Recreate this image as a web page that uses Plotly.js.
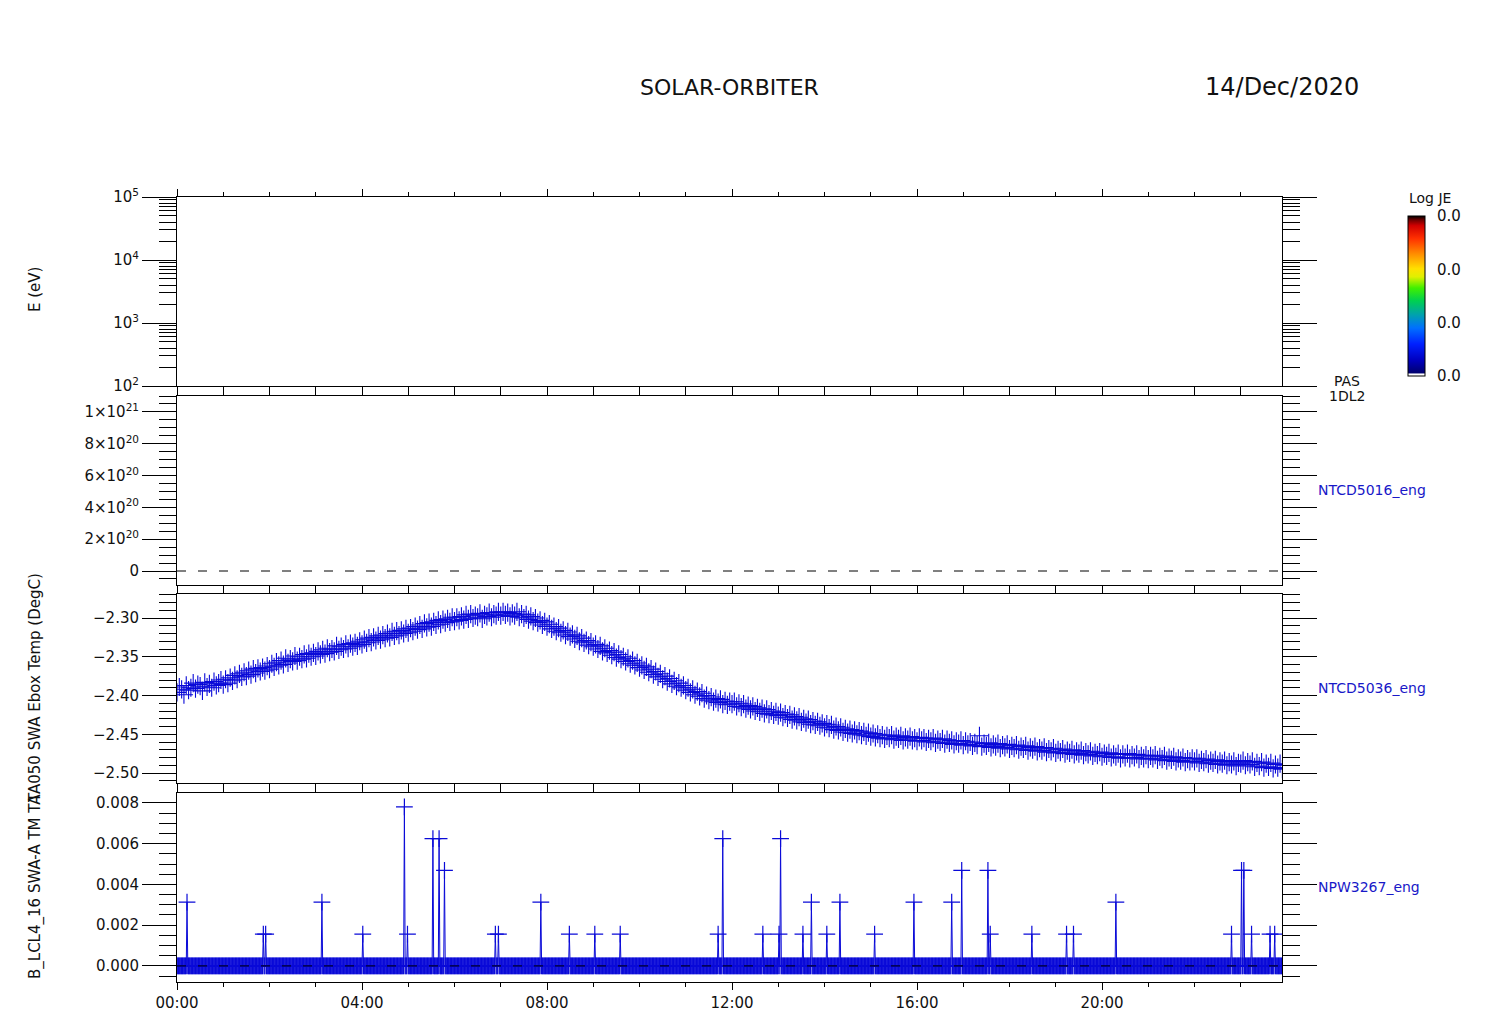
<!DOCTYPE html>
<html>
<head>
<meta charset="utf-8">
<script src="https://cdn.plot.ly/plotly-3.0.1.min.js"></script>
<style>html,body{margin:0;padding:0;background:#fff;}#chart{width:1512px;height:1020px;}</style>
</head>
<body>
<div id="chart"></div>
<script>
// ---------- DATA ----------
const dayDate = '2020-12-14';
const mainTitle = 'SOLAR-ORBITER';
const dateLabel = '14/Dec/2020';

// Panel 1 (energy axis, no data)
const eTickVals = [100, 1000, 10000, 100000];
const eTickText = ['10<sup>2</sup>','10<sup>3</sup>','10<sup>4</sup>','10<sup>5</sup>'];

// Panel 2 (NTCD5016_eng, only zero line)
const p2TickVals = [0, 2e20, 4e20, 6e20, 8e20, 1e21];
const p2TickText = ['0','2×10<sup>20</sup>','4×10<sup>20</sup>','6×10<sup>20</sup>','8×10<sup>20</sup>','1×10<sup>21</sup>'];

// Panel 3 (NTCD5036_eng) temperature, one sample every 3 minutes from 00:00 (20 per hour)
const tempStepMin = 3;
const tempValues = [
-2.396,-2.389,-2.392,-2.399,-2.387,-2.393,-2.390,-2.384,-2.391,-2.386,-2.388,-2.394,-2.383,-2.389,-2.385,-2.390,-2.382,-2.387,-2.384,-2.380,
-2.386,-2.379,-2.384,-2.377,-2.381,-2.374,-2.379,-2.372,-2.376,-2.370,-2.375,-2.368,-2.373,-2.366,-2.371,-2.365,-2.369,-2.364,-2.368,-2.362,
-2.366,-2.359,-2.363,-2.357,-2.361,-2.355,-2.360,-2.352,-2.358,-2.353,-2.356,-2.349,-2.355,-2.350,-2.353,-2.347,-2.352,-2.346,-2.350,-2.345,
-2.349,-2.343,-2.347,-2.341,-2.346,-2.339,-2.344,-2.340,-2.343,-2.336,-2.341,-2.337,-2.340,-2.334,-2.339,-2.333,-2.337,-2.332,-2.336,-2.330,
-2.334,-2.328,-2.332,-2.326,-2.331,-2.325,-2.329,-2.323,-2.328,-2.322,-2.326,-2.320,-2.325,-2.318,-2.323,-2.317,-2.322,-2.316,-2.320,-2.314,
-2.319,-2.313,-2.317,-2.311,-2.315,-2.309,-2.314,-2.307,-2.312,-2.306,-2.311,-2.305,-2.309,-2.303,-2.308,-2.302,-2.306,-2.301,-2.305,-2.299,
-2.304,-2.299,-2.303,-2.298,-2.302,-2.296,-2.301,-2.295,-2.300,-2.297,-2.299,-2.294,-2.301,-2.296,-2.298,-2.293,-2.299,-2.295,-2.297,-2.292,
-2.297,-2.292,-2.296,-2.293,-2.298,-2.294,-2.297,-2.292,-2.299,-2.295,-2.300,-2.296,-2.302,-2.298,-2.304,-2.300,-2.306,-2.303,-2.309,-2.305,
-2.311,-2.308,-2.314,-2.311,-2.317,-2.313,-2.319,-2.316,-2.322,-2.318,-2.324,-2.321,-2.327,-2.323,-2.330,-2.326,-2.332,-2.329,-2.335,-2.331,
-2.337,-2.334,-2.340,-2.336,-2.343,-2.339,-2.345,-2.342,-2.348,-2.344,-2.351,-2.347,-2.353,-2.350,-2.356,-2.352,-2.359,-2.355,-2.361,-2.358,
-2.364,-2.361,-2.367,-2.363,-2.370,-2.366,-2.373,-2.369,-2.376,-2.372,-2.379,-2.375,-2.382,-2.378,-2.385,-2.381,-2.388,-2.384,-2.390,-2.387,
-2.393,-2.390,-2.396,-2.392,-2.399,-2.395,-2.401,-2.397,-2.404,-2.400,-2.406,-2.402,-2.408,-2.404,-2.409,-2.405,-2.411,-2.407,-2.412,-2.408,
-2.411,-2.408,-2.414,-2.410,-2.415,-2.411,-2.417,-2.413,-2.418,-2.414,-2.420,-2.416,-2.421,-2.417,-2.423,-2.418,-2.424,-2.420,-2.425,-2.421,
-2.426,-2.422,-2.428,-2.424,-2.429,-2.425,-2.431,-2.427,-2.432,-2.428,-2.434,-2.430,-2.435,-2.431,-2.437,-2.433,-2.438,-2.434,-2.439,-2.436,
-2.441,-2.437,-2.442,-2.438,-2.444,-2.440,-2.445,-2.441,-2.447,-2.443,-2.448,-2.444,-2.449,-2.445,-2.450,-2.446,-2.451,-2.447,-2.452,-2.448,
-2.453,-2.449,-2.454,-2.450,-2.455,-2.451,-2.456,-2.452,-2.455,-2.451,-2.457,-2.453,-2.456,-2.452,-2.458,-2.454,-2.457,-2.453,-2.458,-2.455,
-2.459,-2.454,-2.458,-2.455,-2.460,-2.456,-2.459,-2.455,-2.461,-2.457,-2.460,-2.456,-2.462,-2.457,-2.461,-2.458,-2.463,-2.459,-2.462,-2.458,
-2.464,-2.459,-2.463,-2.460,-2.465,-2.461,-2.464,-2.452,-2.466,-2.462,-2.465,-2.461,-2.467,-2.463,-2.466,-2.462,-2.468,-2.464,-2.467,-2.463,
-2.469,-2.465,-2.468,-2.464,-2.470,-2.466,-2.469,-2.465,-2.471,-2.467,-2.470,-2.466,-2.472,-2.468,-2.471,-2.467,-2.473,-2.469,-2.472,-2.468,
-2.474,-2.470,-2.473,-2.469,-2.475,-2.471,-2.474,-2.470,-2.476,-2.472,-2.475,-2.471,-2.477,-2.473,-2.476,-2.472,-2.478,-2.474,-2.477,-2.473,
-2.479,-2.475,-2.478,-2.474,-2.480,-2.476,-2.479,-2.475,-2.481,-2.476,-2.480,-2.475,-2.481,-2.477,-2.480,-2.476,-2.482,-2.478,-2.481,-2.477,
-2.482,-2.478,-2.481,-2.477,-2.483,-2.479,-2.482,-2.478,-2.484,-2.480,-2.483,-2.479,-2.485,-2.481,-2.484,-2.480,-2.486,-2.482,-2.485,-2.481,
-2.485,-2.481,-2.487,-2.483,-2.486,-2.482,-2.488,-2.484,-2.487,-2.483,-2.489,-2.485,-2.488,-2.484,-2.490,-2.486,-2.489,-2.485,-2.491,-2.487,
-2.488,-2.484,-2.490,-2.486,-2.489,-2.485,-2.492,-2.487,-2.491,-2.486,-2.493,-2.488,-2.492,-2.487,-2.494,-2.489,-2.493,-2.488,-2.495,-2.490
];
const p3TickVals = [-2.50,-2.45,-2.40,-2.35,-2.30];

// Panel 4 (NPW3267_eng): one sample per minute, zero except these spikes
const npwStepMin = 1;
const npwLastMin = 1433;
const spikeTimes = ['00:13','01:52','01:55','03:08','04:01','04:55','04:59','05:32','05:40','05:47',
  '06:53','06:57','07:52','08:29','09:02','09:35','11:42','11:48','12:40','13:01','13:03','13:32',
  '13:43','14:03','14:20','15:05','15:56','16:45','16:58','17:32','17:35','18:29','19:14','19:23',
  '20:18','22:48','23:01','23:04','23:14','23:38','23:44'];
const spikeValues = [0.00313,0.00156,0.00156,0.00313,0.00156,0.00781,0.00156,0.00625,0.00625,0.00469,
  0.00156,0.00156,0.00313,0.00156,0.00156,0.00156,0.00156,0.00625,0.00156,0.00156,0.00625,0.00156,
  0.00313,0.00156,0.00313,0.00156,0.00313,0.00313,0.00469,0.00469,0.00156,0.00156,0.00156,0.00156,
  0.00313,0.00156,0.00469,0.00469,0.00156,0.00156,0.00156];
const p4TickVals = [0, 0.002, 0.004, 0.006, 0.008];

// Colorbar
const cbTickVals = [0, 1/3, 2/3, 1];
const cbTickText = ['0.0','0.0','0.0','0.0'];

// ---------- helpers ----------
function pad(n){ return (n<10?'0':'') + n; }
function tstr(min){
  const h = Math.floor(min/60), m = Math.floor(min%60), s = Math.round((min*60)%60);
  return dayDate + ' ' + pad(h) + ':' + pad(m) + ':' + pad(s);
}
const xStart = dayDate + ' 00:00:00';
const xEnd = dayDate + ' 23:53:30';

const BLUE = '#0a0ad8';
const LBLUE = '#1818c8';
const FONT = 'DejaVu Sans';
const TXT = '#111111';

const tempX = tempValues.map((v,i)=>tstr(i*tempStepMin));
const spikeMin = spikeTimes.map(t=>{ const p=t.split(':'); return (+p[0])*60 + (+p[1]); });
const npwX = [], npwY = [];
for (let m = 0; m <= npwLastMin; m += npwStepMin) {
  npwX.push(tstr(m));
  const k = spikeMin.indexOf(m);
  npwY.push(k >= 0 ? spikeValues[k] : 0);
}

// ---------- traces ----------
const traces = [
  { // invisible carrier for the colorbar (panel 1)
    type:'scatter', mode:'markers', xaxis:'x', yaxis:'y',
    x:[xStart], y:[10], hoverinfo:'skip',
    marker:{ size:1, opacity:0, color:[0], cmin:0, cmax:1, showscale:true,
      colorscale:[[0,'#ffffff'],[0.012,'#ffffff'],[0.02,'#000070'],[0.1,'#0000c0'],[0.2,'#0020ff'],
        [0.3,'#0070ff'],[0.38,'#00a0b0'],[0.47,'#00d050'],[0.55,'#40f000'],[0.62,'#e0f000'],
        [0.67,'#ffe000'],[0.76,'#ff9000'],[0.86,'#ff3000'],[0.94,'#d00000'],[0.975,'#700000'],[1,'#000000']],
      colorbar:{ x:(1408-177)/1105, xanchor:'left', y:(982-296)/785, yanchor:'middle',
        len:160, lenmode:'pixels', thickness:17, thicknessmode:'pixels',
        outlinewidth:1, outlinecolor:'#000',
        tickmode:'array', tickvals:cbTickVals, ticktext:cbTickText,
        ticks:'outside', ticklen:9, tickcolor:'rgba(0,0,0,0)',
        tickfont:{family:FONT, size:15, color:TXT}, xpad:0, ypad:0 } }
  },
  { // panel 3 temperature
    type:'scatter', mode:'markers', xaxis:'x3', yaxis:'y3',
    x:tempX, y:tempValues, hoverinfo:'skip',
    marker:{ symbol:'cross-thin', size:13, color:BLUE, line:{color:BLUE, width:1.1} }
  },
  { // panel 4 NPW
    type:'scatter', mode:'lines+markers', xaxis:'x4', yaxis:'y4',
    x:npwX, y:npwY, hoverinfo:'skip',
    line:{color:BLUE, width:1},
    marker:{ symbol:'cross-thin', size:12, color:BLUE, line:{color:BLUE, width:1.2} }
  }
];

// ---------- axes ----------
function xAxis(anchor, labels){
  return {
    type:'date', anchor:anchor, matches: anchor==='y' ? undefined : 'x',
    range:[xStart, xEnd], domain:[0,1],
    showline:true, linecolor:'#000', linewidth:1, mirror:'ticks',
    ticks:'outside', ticklen:7, tickcolor:'#000', tickwidth:1,
    tickmode:'linear', tick0:xStart, dtick:4*3600000, tickformat:'%H:%M',
    showticklabels:labels, tickfont:{family:FONT, size:15, color:TXT},
    minor:{ ticks:'outside', ticklen:4, tickcolor:'#000', dtick:3600000, tick0:xStart, showgrid:false },
    showgrid:false, zeroline:false
  };
}
function yAxis(domain, extra){
  return Object.assign({
    domain:domain,
    showline:true, linecolor:'#000', linewidth:1, mirror:'ticks',
    ticks:'outside', ticklen:34, tickcolor:'#000', tickwidth:1,
    tickfont:{family:FONT, size:15, color:TXT},
    showgrid:false, zeroline:false
  }, extra);
}
const d1 = [(982-386)/785, 1];
const d2 = [(982-585)/785, (982-396)/785];
const d3 = [(982-783)/785, (982-594)/785];
const d4 = [0, (982-793)/785];

const layout = {
  width:1512, height:1020,
  margin:{l:177, r:230, t:197, b:38, pad:0},
  paper_bgcolor:'#fff', plot_bgcolor:'#fff',
  showlegend:false,
  font:{family:FONT, size:15, color:TXT},
  xaxis: xAxis('y', false),
  xaxis2: xAxis('y2', false),
  xaxis3: xAxis('y3', false),
  xaxis4: xAxis('y4', true),
  yaxis: yAxis(d1, {anchor:'x', type:'log', range:[2,5], tickmode:'array', tickvals:eTickVals, ticktext:eTickText,
    minor:{ticks:'outside', ticklen:17, tickcolor:'#000', dtick:'D1', showgrid:false}}),
  yaxis2: yAxis(d2, {anchor:'x2', range:[-0.088e21, 1.1e21], tickmode:'array', tickvals:p2TickVals, ticktext:p2TickText,
    minor:{ticks:'outside', ticklen:17, tickcolor:'#000', dtick:5e19, tick0:0, showgrid:false}}),
  yaxis3: yAxis(d3, {anchor:'x3', range:[-2.5129, -2.2690], tickmode:'array', tickvals:p3TickVals, tickformat:'.2f',
    minor:{ticks:'outside', ticklen:17, tickcolor:'#000', dtick:0.01, tick0:-2.5, showgrid:false}}),
  yaxis4: yAxis(d4, {anchor:'x4', range:[-0.00079, 0.00849], tickmode:'array', tickvals:p4TickVals, tickformat:'.3f',
    minor:{ticks:'outside', ticklen:17, tickcolor:'#000', dtick:0.0005, tick0:0, showgrid:false}}),
  shapes:[
    {type:'line', xref:'x2', yref:'y2', x0:xStart, x1:xEnd, y0:0, y1:0, line:{color:'#000', width:1, dash:'9px,12px'}},
    {type:'line', xref:'x4', yref:'y4', x0:xStart, x1:xEnd, y0:0, y1:0, layer:'above', line:{color:'#000', width:1, dash:'9px,12px'}}
  ],
  annotations:[
    {text:mainTitle, xref:'paper', yref:'paper', x:(729-177)/1105, y:(982-87)/785, xanchor:'center', yanchor:'middle', showarrow:false, font:{family:FONT, size:22, color:TXT}},
    {text:dateLabel, xref:'paper', yref:'paper', x:1, y:(982-87)/785, xanchor:'center', yanchor:'middle', showarrow:false, font:{family:FONT, size:24, color:TXT}},
    {text:'E (eV)', xref:'paper', yref:'paper', x:(35-177)/1105, y:(982-290)/785, xanchor:'center', yanchor:'middle', textangle:-90, showarrow:false, font:{family:FONT, size:15, color:TXT}},
    {text:'TA050 SWA Ebox Temp (DegC)', xref:'paper', yref:'paper', x:(35-177)/1105, y:(982-688)/785, xanchor:'center', yanchor:'middle', textangle:-90, showarrow:false, font:{family:FONT, size:15, color:TXT}},
    {text:'B_LCL4_16 SWA-A TM TA', xref:'paper', yref:'paper', x:(35-177)/1105, y:(982-887)/785, xanchor:'center', yanchor:'middle', textangle:-90, showarrow:false, font:{family:FONT, size:15, color:TXT}},
    {text:'PAS', xref:'paper', yref:'paper', x:(1347-177)/1105, y:(982-381)/785, xanchor:'center', yanchor:'middle', showarrow:false, font:{family:FONT, size:14, color:TXT}},
    {text:'1DL2', xref:'paper', yref:'paper', x:(1347-177)/1105, y:(982-396)/785, xanchor:'center', yanchor:'middle', showarrow:false, font:{family:FONT, size:14, color:TXT}},
    {text:'Log JE', xref:'paper', yref:'paper', x:(1407-177)/1105, y:(982-198)/785, xanchor:'left', yanchor:'middle', showarrow:false, font:{family:FONT, size:14, color:TXT}},
    {text:'NTCD5016_eng', xref:'paper', yref:'paper', x:(1316-177)/1105, y:(982-490)/785, xanchor:'left', yanchor:'middle', showarrow:false, font:{family:FONT, size:14, color:LBLUE}},
    {text:'NTCD5036_eng', xref:'paper', yref:'paper', x:(1316-177)/1105, y:(982-688)/785, xanchor:'left', yanchor:'middle', showarrow:false, font:{family:FONT, size:14, color:LBLUE}},
    {text:'NPW3267_eng', xref:'paper', yref:'paper', x:(1316-177)/1105, y:(982-887)/785, xanchor:'left', yanchor:'middle', showarrow:false, font:{family:FONT, size:14, color:LBLUE}}
  ]
};

Plotly.newPlot('chart', traces, layout, {staticPlot:true, displayModeBar:false});
</script>
</body>
</html>
